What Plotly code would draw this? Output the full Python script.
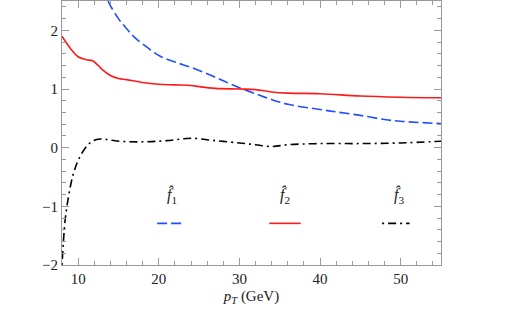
import plotly.graph_objects as go

C_BLUE = '#1f4fff'
C_RED = '#ff1a1a'
C_BLACK = '#000000'
C_AXIS = '#999999'
FONT = 'Liberation Serif'

# f1 (blue dashed)
f1_x = [13.7, 14, 15, 16, 17, 18, 20, 22, 24, 26, 28, 30, 32, 34, 36, 40, 42, 45, 48, 50, 55]
f1_y = [2.5, 2.42, 2.2, 2.03, 1.88, 1.77, 1.57, 1.46, 1.37, 1.26, 1.14, 1.02, 0.92, 0.82, 0.74,
        0.65, 0.61, 0.55, 0.48, 0.45, 0.41]

# f2 (red solid)
f2_x = [8, 9, 10, 11, 11.8, 12.5, 13, 14, 15, 16, 18, 20, 22, 24, 25, 27, 30, 32, 34, 36, 40,
        45, 50, 55]
f2_y = [1.90, 1.70, 1.55, 1.50, 1.48, 1.40, 1.33, 1.23, 1.18, 1.16, 1.11, 1.08, 1.07, 1.06,
        1.04, 1.01, 1.00, 0.99, 0.95, 0.93, 0.92, 0.88, 0.86, 0.85]

# f3 (black dash-dot)
f3_x = [8.0, 8.2, 8.4, 8.8, 9.4, 10.2, 11.3, 12.3, 13.5, 15, 18, 21, 24, 27, 30, 32, 34, 36,
        40, 45, 50, 55]
f3_y = [-2.0, -1.55, -1.22, -0.84, -0.45, -0.16, 0.06, 0.14, 0.14, 0.11, 0.10, 0.12, 0.16,
        0.12, 0.08, 0.05, 0.02, 0.05, 0.07, 0.07, 0.08, 0.11]

DASH_1 = '10px,4px'
DASH_3 = '2px,4px,8px,4px'

fig = go.Figure()
fig.add_trace(go.Scatter(x=f1_x, y=f1_y, mode='lines', line_shape='spline',
                         line=dict(color=C_BLUE, width=1.6, dash=DASH_1)))
fig.add_trace(go.Scatter(x=f2_x, y=f2_y, mode='lines', line_shape='spline',
                         line=dict(color=C_RED, width=1.6)))
fig.add_trace(go.Scatter(x=f3_x, y=f3_y, mode='lines', line_shape='spline',
                         line=dict(color=C_BLACK, width=1.6, dash=DASH_3)))

# legend: labels above short line samples
legend = [
    ('1', 21.6, 19.8, 23.1, C_BLUE, DASH_1),
    ('2', 35.6, 33.7, 37.6, C_RED, 'solid'),
    ('3', 49.8, 47.7, 51.1, C_BLACK, DASH_3),
]
for idx, xc, x0, x1, col, dash in legend:
    fig.add_annotation(x=xc, y=-0.81, xref='x', yref='y', showarrow=False,
                       text=f'<i>f\u0302</i><sub>{idx}</sub>',
                       font=dict(family=FONT, size=16, color='#222'))
    fig.add_shape(type='line', xref='x', yref='y', x0=x0, x1=x1, y0=-1.29, y1=-1.29,
                  line=dict(color=col, width=1.6, dash=dash))

axis_common = dict(
    showline=True, linecolor=C_AXIS, linewidth=1, mirror='allticks',
    ticks='inside', tickcolor=C_AXIS, ticklen=7, tickwidth=1,
    showgrid=False, zeroline=False, automargin=False,
    tickfont=dict(family=FONT, size=15, color='#222'),
)

fig.update_layout(
    width=518, height=326,
    paper_bgcolor='white', plot_bgcolor='white',
    font=dict(family=FONT),
    showlegend=False,
    margin=dict(l=62, r=77, t=1, b=61),
    xaxis=dict(
        **axis_common, range=[8, 55], dtick=10, tick0=0,
        minor=dict(dtick=2, tick0=0, ticks='inside', ticklen=4, tickcolor=C_AXIS),
        title=dict(text='<i>p</i><sub><i>T</i></sub> (GeV)', standoff=4,
                   font=dict(family=FONT, size=15, color='#222')),
    ),
    yaxis=dict(
        **axis_common, range=[-2, 2.5], dtick=1, tick0=0,
        minor=dict(dtick=0.2, tick0=0, ticks='inside', ticklen=4, tickcolor=C_AXIS),
    ),
)

# drop the page's default body margin so the figure sits at the window origin
fig.write_html('out.html', config={'displayModeBar': False},
               post_script="document.body.style.margin='0';")
